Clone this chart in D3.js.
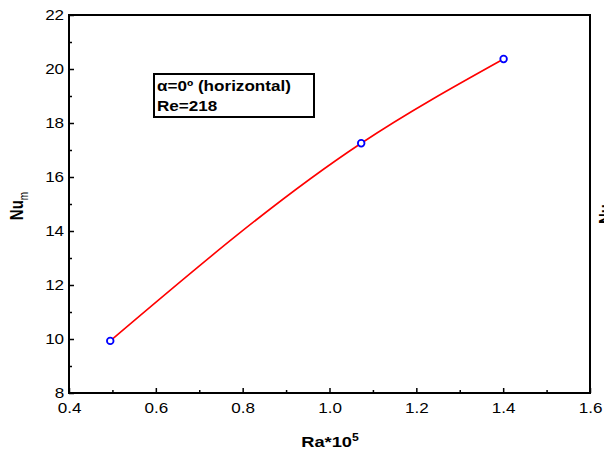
<!DOCTYPE html>
<html><head><meta charset="utf-8">
<script src="https://cdn.jsdelivr.net/npm/d3@7/dist/d3.min.js"></script>
<style>body{margin:0;background:#fff}svg{display:block;font-family:"Liberation Sans",Arial,sans-serif}</style>
</head><body><svg id="c" width="604" height="455"></svg>
<script>
const raValues = [0.495, 1.073, 1.401];
const nuValues = [9.93, 17.25, 20.37];
const xTicks = [0.4, 0.6, 0.8, 1.0, 1.2, 1.4, 1.6];
const yTicks = [8, 10, 12, 14, 16, 18, 20, 22];
const legendLines = ["α=0º (horizontal)", "Re=218"];

const SX = 1.22; // horizontal stretch of the glyphs in the reference
const svg = d3.select("#c");
const L = 69, R = 590, T = 15, B = 393;
const x = d3.scaleLinear().domain([0.4, 1.6]).range([L, R]);
const y = d3.scaleLinear().domain([8, 22]).range([B, T]);

// frame
svg.append("rect").attr("x", L).attr("y", T).attr("width", R - L).attr("height", B - T)
  .attr("fill", "none").attr("stroke", "#000").attr("stroke-width", 2);

// axes (ticks inward)
const xMinor = d3.range(0.5, 1.6, 0.2);
const yMinor = d3.range(9, 22, 2);
const gx = svg.append("g").attr("transform", `translate(0,${B})`);
gx.call(d3.axisBottom(x).tickValues(xTicks).tickFormat(d3.format(".1f")).tickSize(-5).tickPadding(10));
const gxm = svg.append("g").attr("transform", `translate(0,${B})`);
gxm.call(d3.axisBottom(x).tickValues(xMinor).tickFormat("").tickSize(-3));
const gy = svg.append("g").attr("transform", `translate(${L},0)`);
gy.call(d3.axisLeft(y).tickValues(yTicks).tickFormat(d3.format("d")).tickSize(-5).tickPadding(4));
const gym = svg.append("g").attr("transform", `translate(${L},0)`);
gym.call(d3.axisLeft(y).tickValues(yMinor).tickFormat("").tickSize(-3));
svg.selectAll(".domain").remove();
svg.selectAll(".tick line").attr("stroke", "#000").attr("stroke-width", 1.5);
svg.selectAll(".tick text").attr("font-size", 14).attr("fill", "#000")
  .attr("font-family", "'Liberation Sans',Arial,sans-serif")
  .attr("transform", `scale(${SX},1)`);

// curve
const pts = raValues.map((r, i) => [r, nuValues[i]]);
svg.append("path").datum(pts)
  .attr("d", d3.line().x(d => x(d[0])).y(d => y(d[1])).curve(d3.curveMonotoneX))
  .attr("fill", "none").attr("stroke", "#ff0000").attr("stroke-width", 1.6);
svg.selectAll("circle.p").data(pts).enter().append("circle")
  .attr("cx", d => x(d[0])).attr("cy", d => y(d[1])).attr("r", 3.3)
  .attr("fill", "#fff").attr("stroke", "#0000ff").attr("stroke-width", 1.8);

// legend box
svg.append("rect").attr("x", 154).attr("y", 74).attr("width", 160).attr("height", 43)
  .attr("fill", "#fff").attr("stroke", "#000").attr("stroke-width", 2);
svg.selectAll("text.lg").data(legendLines).enter().append("text")
  .attr("transform", (d, i) => `translate(157,${91 + i * 20}) scale(${SX},1)`)
  .attr("font-size", 14).attr("font-weight", "bold").text(d => d);

// axis labels
const yl = svg.append("text").attr("transform", `translate(23,206) scale(${SX},1) rotate(-90)`)
  .attr("text-anchor", "middle").attr("font-size", 15).attr("font-weight", "bold");
yl.append("tspan").text("Nu");
yl.append("tspan").attr("font-size", 10).attr("font-weight", "normal").attr("dy", 4).text("m");

const xl = svg.append("text").attr("transform", `translate(330,447) scale(${SX},1)`).attr("text-anchor", "middle")
  .attr("font-size", 15).attr("font-weight", "bold");
xl.append("tspan").text("Ra*10");
xl.append("tspan").attr("font-size", 10).attr("dy", -6).text("5");

// clipped label of neighbouring chart at the right edge
svg.append("text").attr("transform", `translate(612,214) scale(${SX},1) rotate(-90)`)
  .attr("text-anchor", "middle").attr("font-size", 15).attr("font-weight", "bold").text("Nu");
</script></body></html>
